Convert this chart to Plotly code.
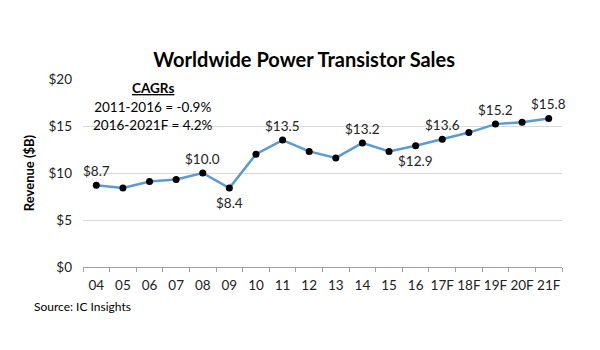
import plotly.graph_objects as go

years = ["04", "05", "06", "07", "08", "09", "10", "11", "12", "13", "14",
         "15", "16", "17F", "18F", "19F", "20F", "21F"]
revenue = [8.7, 8.4, 9.1, 9.3, 10.0, 8.4, 12.0, 13.5, 12.3, 11.6, 13.2,
           12.3, 12.9, 13.6, 14.3, 15.2, 15.4, 15.8]
labels = ["$8.7", "", "", "", "$10.0", "$8.4", "", "$13.5", "", "", "$13.2",
          "", "$12.9", "$13.6", "", "$15.2", "", "$15.8"]
label_below = [False, False, False, False, False, True, False, False, False, False,
               False, False, True, False, False, False, False, False]
y_ticks = [0, 5, 10, 15, 20]
y_tick_text = ["$0", "$5", "$10", "$15", "$20"]

FONT = "Lato"
fig = go.Figure()
fig.add_trace(go.Scatter(
    x=years, y=revenue, mode="lines+markers",
    line=dict(color="#5B9BD5", width=2.5),
    marker=dict(color="black", size=7),
    cliponaxis=False, showlegend=False,
))

# category axis: annotations positioned by category index
for i, (yv, lab, below) in enumerate(zip(revenue, labels, label_below)):
    if lab:
        fig.add_annotation(x=i, y=yv, text=lab, showarrow=False,
                           yshift=-15 if below else 14,
                           font=dict(family=FONT, size=13.5, color="#222"))

fig.update_layout(
    width=600, height=350,
    margin=dict(l=83, r=38, t=79, b=83),
    paper_bgcolor="white", plot_bgcolor="white",
    font=dict(family=FONT, size=13, color="#222"),
    title=dict(text="<b>Worldwide Power Transistor Sales</b>",
               x=0.507, xanchor="center", y=0.83, yanchor="middle",
               font=dict(family=FONT, size=20, color="black")),
    xaxis=dict(type="category", range=[-0.5, 17.5], showgrid=False,
               showline=True, linecolor="#a0a0a0", linewidth=1,
               ticks="outside", tickson="boundaries", ticklen=4, tickcolor="#a0a0a0",
               tickangle=0, ticklabelstandoff=6,
               tickfont=dict(family=FONT, size=13.5, color="#222")),
    yaxis=dict(range=[0, 20], tickvals=y_ticks, ticktext=y_tick_text,
               showgrid=True, gridcolor="#d9d9d9", gridwidth=1,
               zeroline=False, showline=False, ticks="", ticklabelstandoff=10,
               tickfont=dict(family=FONT, size=13.5, color="#222"),
               title=dict(text="<b>Revenue ($B)</b>", standoff=10,
                          font=dict(family=FONT, size=13, color="black"))),
)

fig.add_annotation(text="<b><u>CAGRs</u></b>", xref="paper", yref="paper",
                   x=0.147, y=0.95, showarrow=False, xanchor="center", yanchor="middle",
                   font=dict(family=FONT, size=13.5, color="black"))
fig.add_annotation(text="2011-2016 = -0.9%<br>2016-2021F = 4.2%", xref="paper", yref="paper",
                   x=0.147, y=0.905, showarrow=False, xanchor="center", yanchor="top",
                   align="center",
                   font=dict(family=FONT, size=13.5, color="black"))
fig.add_annotation(text="Source: IC Insights", xref="paper", yref="paper",
                   x=-0.107, y=-0.21, showarrow=False, xanchor="left", yanchor="middle",
                   font=dict(family=FONT, size=12, color="black"))

fig.write_html("out.html")
